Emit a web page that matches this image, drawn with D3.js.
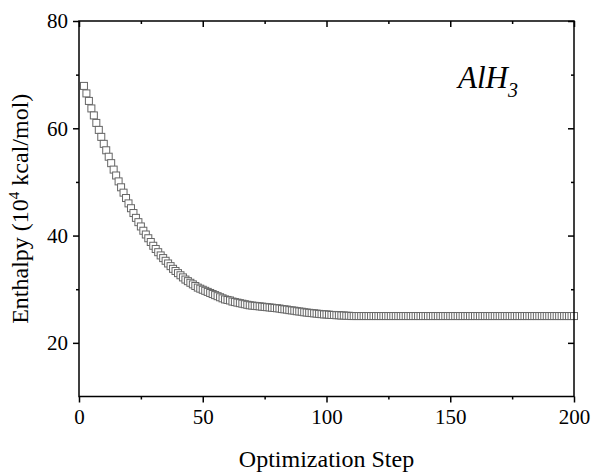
<!DOCTYPE html>
<html><head><meta charset="utf-8">
<script src="https://cdn.jsdelivr.net/npm/d3@7"></script>
<style>body{margin:0;background:#fff} svg text{font-family:"Liberation Serif","Times New Roman","DejaVu Serif",serif}</style>
</head><body>
<svg id="c" width="594" height="475"></svg>
<script>
// Data
const steps = d3.range(2, 201);
const enthalpyHead = [
  67.9, 66.5, 65.1, 63.7, 62.4, 61.0, 59.7, 58.4, 57.1, 55.9,
  54.7, 53.5, 52.3, 51.2, 50.1, 49.0, 48.0, 47.0, 46.0, 45.1,
  44.2, 43.3, 42.5, 41.7, 40.9, 40.2, 39.5, 38.8, 38.1, 37.5,
  36.9, 36.3, 35.8, 35.3, 34.8, 34.3, 33.8, 33.4, 33.0, 32.6,
  32.2, 31.8, 31.5, 31.2, 30.9, 30.6, 30.3, 30.1, 29.9, 29.7,
  29.5, 29.3, 29.1, 28.9, 28.7, 28.5, 28.3, 28.1, 28.0, 27.9,
  27.7, 27.6, 27.5, 27.4, 27.3, 27.2, 27.1, 27.0, 26.95, 26.9,
  26.85, 26.8, 26.75, 26.7, 26.65, 26.6, 26.55, 26.5, 26.45, 26.4,
  26.3, 26.25, 26.2, 26.1, 26.05, 26.0, 25.9, 25.85, 25.8, 25.7,
  25.65, 25.6, 25.55, 25.5, 25.45, 25.4, 25.35, 25.3, 25.3, 25.25,
  25.2, 25.2, 25.15, 25.15, 25.1, 25.1, 25.05, 25.05
];
const plateau = 25.0;
const enthalpy = steps.map((s, i) => i < enthalpyHead.length ? enthalpyHead[i] : plateau);
const xTicks = [0, 50, 100, 150, 200];
const xMinor = [25, 75, 125, 175];
const yTicks = [20, 40, 60, 80];
const yMinor = [30, 50, 70];
const xTitle = "Optimization Step";
const label = "AlH";

const svg = d3.select("#c");
const L = 79, R = 574, T = 21, B = 396.5;
const x = d3.scaleLinear().domain([0, 200]).range([L, R]);
const y = d3.scaleLinear().domain([10, 80]).range([B, T]);
const font = '"Liberation Serif","Times New Roman","DejaVu Serif",serif';

// points
svg.append("g").selectAll("rect").data(steps).join("rect")
  .attr("x", (d) => x(d) - 3.5).attr("y", (d, i) => y(enthalpy[i]) - 3.5)
  .attr("width", 7).attr("height", 7)
  .attr("fill", "#fff").attr("stroke", "#666").attr("stroke-width", 1);

function axis(gen, tr) {
  const g = svg.append("g").attr("transform", tr).call(gen);
  g.attr("font-family", null);
  g.selectAll(".domain").remove();
  g.selectAll("line").attr("stroke", "#000").attr("stroke-width", 1.5);
  return g;
}
const fmt = d3.format("d");
axis(d3.axisBottom(x).tickValues(xTicks).tickSize(6).tickPadding(7).tickFormat(fmt), `translate(0,${B})`);
axis(d3.axisBottom(x).tickValues(xMinor).tickSize(3).tickFormat(""), `translate(0,${B})`);
axis(d3.axisTop(x).tickValues(xTicks).tickSize(-6).tickFormat(""), `translate(0,${T})`);
axis(d3.axisTop(x).tickValues(xMinor).tickSize(-3).tickFormat(""), `translate(0,${T})`);
axis(d3.axisLeft(y).tickValues(yTicks).tickSize(6).tickPadding(5).tickFormat(fmt), `translate(${L},0)`);
axis(d3.axisLeft(y).tickValues(yMinor).tickSize(3).tickFormat(""), `translate(${L},0)`);
axis(d3.axisRight(y).tickValues(yTicks).tickSize(-6).tickFormat(""), `translate(${R},0)`);
axis(d3.axisRight(y).tickValues(yMinor).tickSize(-3).tickFormat(""), `translate(${R},0)`);
svg.selectAll(".tick text").style("font-family", font).attr("font-size", 21).attr("fill", "#000");

// frame
svg.append("rect").attr("x", L).attr("y", T).attr("width", R - L).attr("height", B - T)
  .attr("fill", "none").attr("stroke", "#000").attr("stroke-width", 1.5);

// titles
svg.append("text").attr("x", (L + R) / 2).attr("y", 467).attr("text-anchor", "middle")
  .style("font-family", font).attr("font-size", 24).text(xTitle);
const yt = svg.append("text").attr("transform", `translate(28,${(T + B) / 2}) rotate(-90)`)
  .attr("text-anchor", "middle").style("font-family", font).attr("font-size", 24);
yt.append("tspan").text("Enthalpy (10");
yt.append("tspan").attr("font-size", 15).attr("dy", -9).text("4");
yt.append("tspan").attr("dy", 9).text(" kcal/mol)");

const lab = svg.append("text").attr("x", 458).attr("y", 88)
  .style("font-family", font).attr("font-size", 31).attr("font-style", "italic");
lab.append("tspan").text(label);
lab.append("tspan").attr("font-size", 20).attr("dy", 9).text("3");
</script>
</body></html>
